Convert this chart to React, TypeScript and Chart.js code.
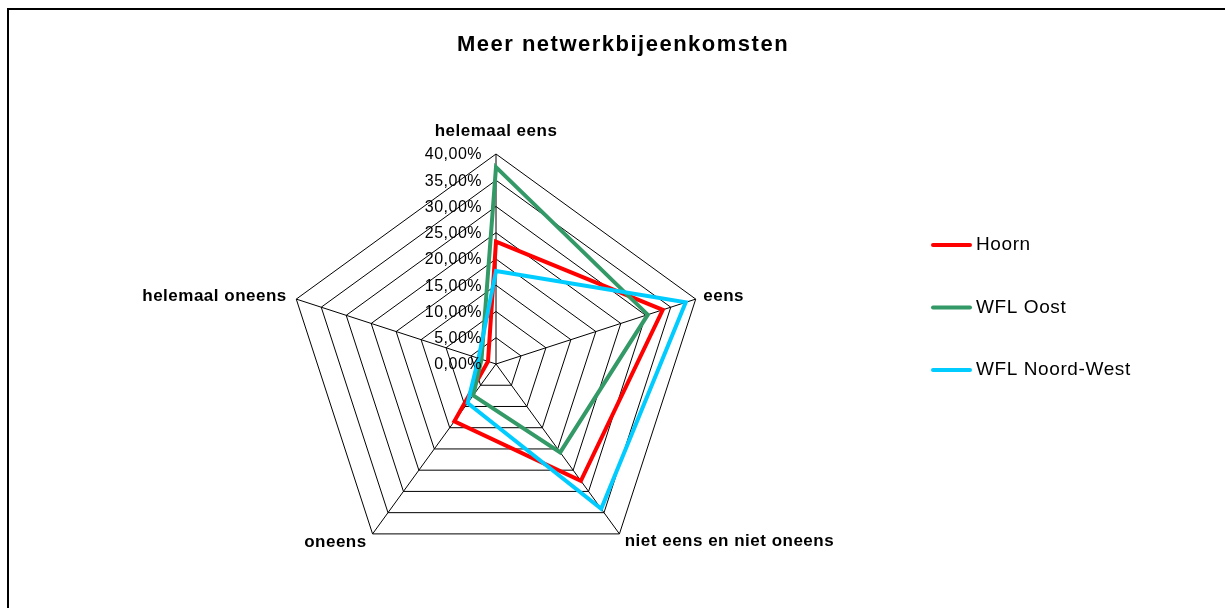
import React, { useEffect, useRef } from "react";
import { Chart, registerables } from "chart.js";

Chart.register(...registerables);

const categories = [
  "helemaal eens",
  "eens",
  "niet eens en niet oneens",
  "oneens",
  "helemaal oneens",
];
const hoorn = [23.3, 33.4, 27.5, 13.5, 1.6];
const wflOost = [37.5, 30.4, 20.8, 7.4, 2.9];
const wflNoordWest = [17.7, 38.0, 34.1, 9.2, 3.5];
const seriesNames = ["Hoorn", "WFL Oost", "WFL Noord-West"];
const seriesValues = [hoorn, wflOost, wflNoordWest];
const seriesColors = ["#FF0000", "#339966", "#00CCFF"];
const tickMin = 0;
const tickMax = 40;
const tickStep = 5;
const chartTitle = "Meer netwerkbijeenkomsten";

const FONT = '"Liberation Sans", Arial, sans-serif';

function fmtPct(v: number): string {
  return v.toFixed(2).replace(".", ",") + "%";
}

const overlayPlugin = {
  id: "overlay",
  afterDraw(chart: any) {
    const ctx = chart.ctx as CanvasRenderingContext2D;
    const scale = chart.scales.r;
    const setLS = (v: string) => {
      try {
        (ctx as any).letterSpacing = v;
      } catch (e) {}
    };
    ctx.save();
    ctx.fillStyle = "#000";

    // value-axis tick labels
    ctx.font = `16px ${FONT}`;
    setLS("0.5px");
    ctx.textAlign = "right";
    ctx.textBaseline = "middle";
    scale.ticks.forEach((t: any) => {
      const d = scale.getDistanceFromCenterForValue(t.value);
      ctx.fillText(fmtPct(t.value), scale.xCenter - 14, scale.yCenter - d + 1);
    });

    // category labels
    ctx.font = `bold 17px ${FONT}`;
    setLS("0.5px");
    const pads = [15, 8, 9, 10, 10];
    categories.forEach((lab, i) => {
      const p = scale.getPointPosition(i, scale.drawingArea + pads[i]);
      const deg = Math.round(
        (((scale.getIndexAngle(i) * 180) / Math.PI) % 360 + 360) % 360
      );
      let align: CanvasTextAlign = "center";
      if (deg > 0 && deg < 180) align = "left";
      else if (deg > 180) align = "right";
      let y = p.y;
      if (deg === 0) y = p.y - 8;
      ctx.textAlign = align;
      ctx.textBaseline = "middle";
      ctx.fillText(lab, p.x, y);
    });

    // title
    ctx.font = `bold 22px ${FONT}`;
    setLS("1.5px");
    ctx.textAlign = "center";
    ctx.textBaseline = "middle";
    ctx.fillText(chartTitle, 623, 45);

    // legend
    ctx.font = `19px ${FONT}`;
    setLS("0.6px");
    ctx.textAlign = "left";
    ctx.textBaseline = "middle";
    chart.data.datasets.forEach((ds: any, i: number) => {
      const y = 245 + i * 62.5;
      ctx.beginPath();
      ctx.strokeStyle = ds.borderColor;
      ctx.lineWidth = 4;
      ctx.lineCap = "round";
      ctx.moveTo(933, y);
      ctx.lineTo(970, y);
      ctx.stroke();
      ctx.fillStyle = "#000";
      ctx.fillText(ds.label, 976, y);
    });
    setLS("0px");
    ctx.restore();
  },
};

export default function App() {
  const canvasRef = useRef<HTMLCanvasElement | null>(null);

  useEffect(() => {
    const canvas = canvasRef.current;
    if (!canvas) return;
    const chart = new Chart(canvas, {
      type: "radar",
      data: {
        labels: categories,
        datasets: seriesNames.map((name, i) => ({
          label: name,
          data: seriesValues[i],
          borderColor: seriesColors[i],
          backgroundColor: "transparent",
          borderWidth: 4,
          pointRadius: 0,
          pointHoverRadius: 0,
          fill: false,
          tension: 0,
          borderJoinStyle: "miter" as const,
          order: seriesNames.length - i,
        })),
      },
      options: {
        responsive: false,
        animation: false,
        devicePixelRatio: 1,
        events: [],
        layout: { padding: { left: 286, right: 519, top: 154, bottom: 34 } },
        plugins: {
          legend: { display: false },
          title: { display: false },
          tooltip: { enabled: false },
        },
        scales: {
          r: {
            min: tickMin,
            max: tickMax,
            ticks: { stepSize: tickStep, display: false },
            grid: { color: "#000", lineWidth: 1 },
            angleLines: { color: "#000", lineWidth: 1 },
            pointLabels: { display: false },
          },
        },
      },
      plugins: [overlayPlugin],
    } as any);
    return () => chart.destroy();
  }, []);

  return (
    <div
      style={{
        position: "absolute",
        left: 0,
        top: 0,
        width: 1225,
        height: 608,
        overflow: "hidden",
        background: "#fff",
      }}
    >
      <div
        style={{
          position: "absolute",
          left: 7,
          top: 8,
          width: 1300,
          height: 700,
          border: "2px solid #000",
          boxSizing: "border-box",
        }}
      />
      <canvas
        ref={canvasRef}
        width={1225}
        height={608}
        style={{ position: "absolute", left: 0, top: 0, width: 1225, height: 608 }}
      />
    </div>
  );
}
